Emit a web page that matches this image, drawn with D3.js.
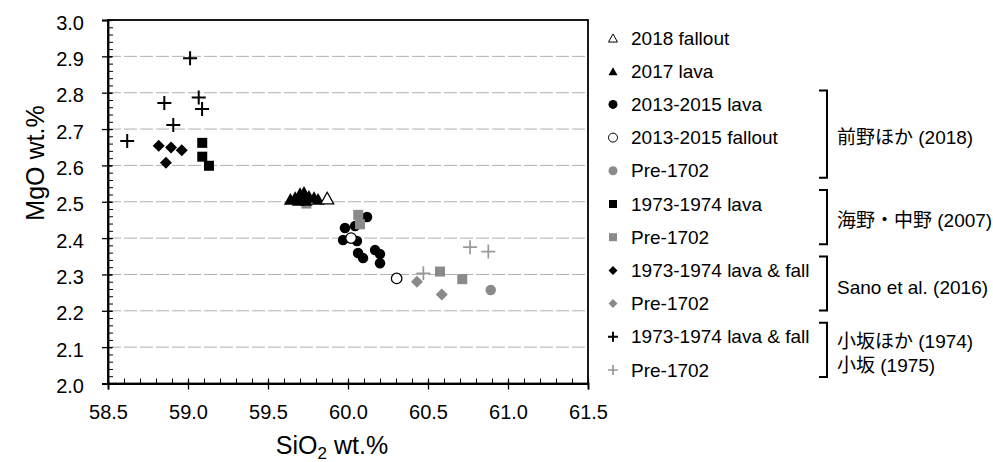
<!DOCTYPE html>
<html>
<head>
<meta charset="utf-8">
<script src="https://cdn.jsdelivr.net/npm/d3@7"></script>
<style>
    body { margin: 0; background: #fff; }
    svg { font-family: "Liberation Sans", Arial, "Noto Sans CJK JP", sans-serif; }
</style>
</head>
<body>
<svg id="chart" width="993" height="462"></svg>
<script>

// Data [SiO2, MgO]

const fallout2018 = [[59.87, 2.51]];
const lava2017 = [[59.64, 2.508], [59.67, 2.513], [59.70, 2.524], [59.725, 2.527], [59.756, 2.516],
    [59.788, 2.513], [59.813, 2.508], [59.69, 2.505], [59.738, 2.505], [59.713, 2.51]];
const lava2013 = [[59.981, 2.428], [60.044, 2.433], [59.969, 2.395], [60.056, 2.392], [60.063, 2.359],
    [60.094, 2.345], [60.169, 2.367], [60.2, 2.356], [60.2, 2.331], [60.119, 2.458]];
const fallout2013 = [[60.019, 2.40], [60.304, 2.289]];
const pre1702Maeno = [[60.892, 2.257]];
const lava1973Umino = [[59.089, 2.662], [59.089, 2.624], [59.131, 2.599]];
const pre1702Umino = [[60.064, 2.464], [60.075, 2.438], [60.575, 2.308], [60.714, 2.287], [59.74, 2.495]];
const lava1973Sano = [[58.817, 2.654], [58.894, 2.649], [58.961, 2.642], [58.862, 2.607]];
const pre1702Sano = [[60.431, 2.28], [60.586, 2.245]];
const lava1973Kosaka = [[58.62, 2.667], [58.852, 2.772], [58.908, 2.711], [59.013, 2.895], [59.067, 2.787], [59.088, 2.755]];
const pre1702Kosaka = [[60.471, 2.303], [60.763, 2.375], [60.877, 2.363]];

const xTicks = [58.5, 59.0, 59.5, 60.0, 60.5, 61.0, 61.5];
const yTicks = [2.0, 2.1, 2.2, 2.3, 2.4, 2.5, 2.6, 2.7, 2.8, 2.9, 3.0];

const legendLabels = ["2018 fallout", "2017 lava", "2013-2015 lava", "2013-2015 fallout", "Pre-1702",
    "1973-1974 lava", "Pre-1702", "1973-1974 lava & fall", "Pre-1702", "1973-1974 lava & fall", "Pre-1702"];

const sources = [
    { rows: [2, 4], lines: ["前野ほか (2018)"] },
    { rows: [5, 6], lines: ["海野・中野 (2007)"] },
    { rows: [7, 8], lines: ["Sano et al. (2016)"] },
    { rows: [9, 10], lines: ["小坂ほか (1974)", "小坂 (1975)"] }
];

const gray = "#8a8a8a";

const series = {
    fallout2018:    { data: fallout2018,    shape: "triangle", fill: "#fff", stroke: "#000" },
    lava2017:       { data: lava2017,       shape: "triangle", fill: "#000", stroke: "none" },
    lava2013:       { data: lava2013,       shape: "circle",   fill: "#000", stroke: "none" },
    fallout2013:    { data: fallout2013,    shape: "circle",   fill: "#fff", stroke: "#000" },
    pre1702Maeno:   { data: pre1702Maeno,   shape: "circle",   fill: gray,   stroke: "none" },
    lava1973Umino:  { data: lava1973Umino,  shape: "square",   fill: "#000", stroke: "none" },
    pre1702Umino:   { data: pre1702Umino,   shape: "square",   fill: gray,   stroke: "none" },
    lava1973Sano:   { data: lava1973Sano,   shape: "diamond",  fill: "#000", stroke: "none" },
    pre1702Sano:    { data: pre1702Sano,    shape: "diamond",  fill: gray,   stroke: "none" },
    lava1973Kosaka: { data: lava1973Kosaka, shape: "cross",    fill: "none", stroke: "#000" },
    pre1702Kosaka:  { data: pre1702Kosaka,  shape: "cross",    fill: "none", stroke: "#999" }
};

const legendOrder = ["fallout2018", "lava2017", "lava2013", "fallout2013", "pre1702Maeno",
    "lava1973Umino", "pre1702Umino", "lava1973Sano", "pre1702Sano", "lava1973Kosaka", "pre1702Kosaka"];
const drawOrder = ["lava2013", "fallout2013", "pre1702Maeno", "lava1973Umino", "pre1702Umino",
    "lava1973Sano", "pre1702Sano", "lava1973Kosaka", "pre1702Kosaka", "lava2017", "fallout2018"];

// Layout

const plot = { left: 108, right: 588, top: 20, bottom: 383.5 };

const x = d3.scaleLinear().domain([58.5, 61.5]).range([plot.left, plot.right]);
const y = d3.scaleLinear().domain([2.0, 3.0]).range([plot.bottom, plot.top]);

const plotSize = { triangle: 13, circle: 10.5, square: 10, diamond: 12, cross: 14 };
const legendSize = { triangle: 9, circle: 9, square: 8, diamond: 9, cross: 10 };

function symbolPath(shape, s) {
    const h = s * 0.9;
    switch (shape) {
        case "triangle": return `M0,${-h / 2}L${s / 2},${h / 2}L${-s / 2},${h / 2}Z`;
        case "circle": return d3.symbol(d3.symbolCircle, Math.PI * (s / 2) ** 2)();
        case "square": return `M${-s / 2},${-s / 2}h${s}v${s}h${-s}Z`;
        case "diamond": return `M0,${-s / 2}L${s / 2},0L0,${s / 2}L${-s / 2},0Z`;
        case "cross": return `M${-s / 2},0H${s / 2}M0,${-s / 2}V${s / 2}`;
    }
}

function strokeWidth(d, legend) {
    if (d.shape === "cross") return d.stroke === "#000" ? 2 : 1.7;
    return legend ? 1 : 1.3;
}

const svg = d3.select("#chart");

// Gridlines

svg.append("g")
    .selectAll("line")
    .data(yTicks.slice(1, -1))
    .join("line")
    .attr("x1", plot.left)
    .attr("x2", plot.right)
    .attr("y1", d => y(d))
    .attr("y2", d => y(d))
    .attr("stroke", "#b0b0b0")
    .attr("stroke-width", 1)
    .attr("stroke-dasharray", "13,3");

// Frame

svg.append("rect")
    .attr("x", plot.left)
    .attr("y", plot.top)
    .attr("width", plot.right - plot.left)
    .attr("height", plot.bottom - plot.top)
    .attr("fill", "none")
    .attr("stroke", "#000")
    .attr("stroke-width", 1.8);

// Axes

const minorY = d3.range(0, 51).map(i => 2 + i * 0.02);
const minorX = d3.range(0, 31).map(i => 58.5 + i * 0.1);

svg.append("g")
    .attr("transform", `translate(${plot.left},0)`)
    .call(d3.axisRight(y).tickValues(minorY).tickSize(5).tickFormat(""))
    .call(g => g.select(".domain").remove());

svg.append("g")
    .attr("transform", `translate(0,${plot.bottom})`)
    .call(d3.axisTop(x).tickValues(minorX).tickSize(5).tickFormat(""))
    .call(g => g.select(".domain").remove());

const yAxis = svg.append("g")
    .attr("transform", `translate(${plot.left},0)`)
    .call(d3.axisLeft(y).tickValues(yTicks).tickSize(6).tickPadding(18).tickFormat(d3.format(".1f")));

const xAxis = svg.append("g")
    .attr("transform", `translate(0,${plot.bottom})`)
    .call(d3.axisBottom(x).tickValues(xTicks).tickSize(6).tickPadding(15).tickFormat(d3.format(".1f")));

yAxis.selectAll(".tick line").attr("x2", -6).attr("x1", 4);
xAxis.selectAll(".tick line").attr("y2", 6).attr("y1", -4);

[yAxis, xAxis].forEach(a => {
    a.select(".domain").attr("stroke-width", 1.8);
    a.selectAll(".tick line").attr("stroke-width", 1.3);
    a.selectAll("text")
        .attr("font-size", 20)
        .attr("font-family", "'Liberation Sans', Arial, sans-serif")
        .attr("fill", "#000");
});
yAxis.selectAll("text").attr("dy", "0.45em");
svg.selectAll(".tick line").attr("stroke", "#000");

// Axis titles

svg.append("text")
    .attr("transform", "translate(44,163) rotate(-90)")
    .attr("text-anchor", "middle")
    .attr("font-size", 25)
    .text("MgO wt.%");

const xTitle = svg.append("text")
    .attr("x", 332)
    .attr("y", 454)
    .attr("text-anchor", "middle")
    .attr("font-size", 25);
xTitle.append("tspan").text("SiO");
xTitle.append("tspan").attr("font-size", 17).attr("dy", 5).text("2");
xTitle.append("tspan").attr("dy", -5).text(" wt.%");

// Points

drawOrder.forEach(key => {
    const s = series[key];
    svg.append("g")
        .selectAll("path")
        .data(s.data)
        .join("path")
        .attr("transform", d => `translate(${x(d[0])},${y(d[1])})`)
        .attr("d", symbolPath(s.shape, plotSize[s.shape]))
        .attr("fill", s.fill)
        .attr("stroke", s.stroke)
        .attr("stroke-width", strokeWidth(s, false));
});

// Legend

const legend = { markerX: 613, textX: 631, top: 38, step: 33.2 };
const rowY = i => legend.top + i * legend.step;

const item = svg.append("g")
    .selectAll("g")
    .data(legendOrder)
    .join("g")
    .attr("transform", (d, i) => `translate(0,${rowY(i)})`);

item.append("path")
    .attr("transform", `translate(${legend.markerX},0)`)
    .attr("d", d => symbolPath(series[d].shape, legendSize[series[d].shape]))
    .attr("fill", d => series[d].fill)
    .attr("stroke", d => series[d].stroke)
    .attr("stroke-width", d => strokeWidth(series[d], true));

item.append("text")
    .attr("x", legend.textX)
    .attr("dy", "0.35em")
    .attr("font-size", 19)
    .text((d, i) => legendLabels[i]);

// Source brackets

const bracketX = 827;

sources.forEach(src => {
    const y0 = rowY(src.rows[0]) - 14;
    const y1 = rowY(src.rows[1]) + 7;
    svg.append("path")
        .attr("d", `M${bracketX - 8},${y0}H${bracketX}V${y1}H${bracketX - 8}`)
        .attr("fill", "none")
        .attr("stroke", "#000")
        .attr("stroke-width", 2);
    const mid = (rowY(src.rows[0]) + rowY(src.rows[1])) / 2;
    src.lines.forEach((line, j) => {
        svg.append("text")
            .attr("x", bracketX + 10)
            .attr("y", mid + (j - (src.lines.length - 1) / 2) * 23.5)
            .attr("dy", "0.35em")
            .attr("font-size", 19)
            .text(line);
    });
});

</script>
</body>
</html>
